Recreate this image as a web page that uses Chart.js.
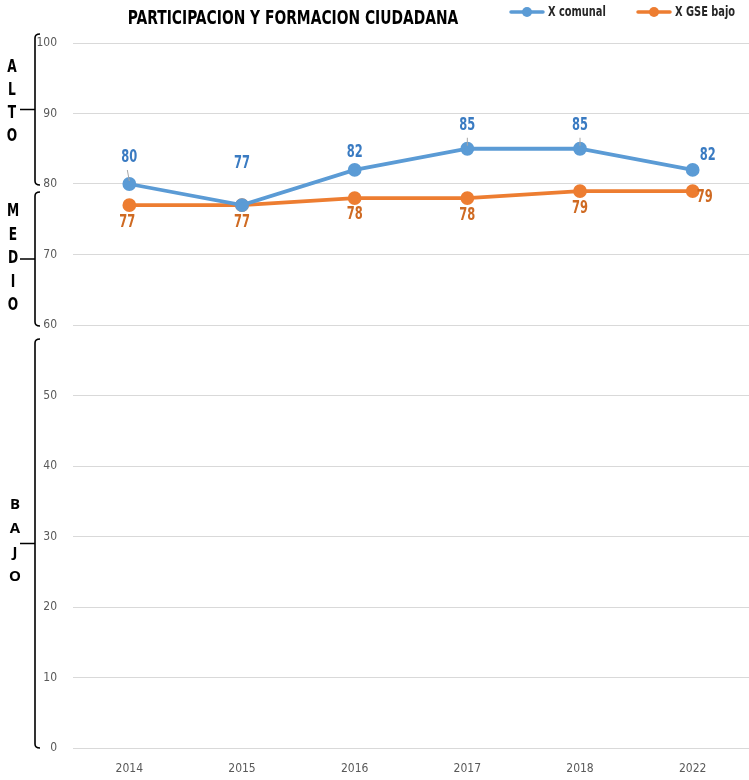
<!DOCTYPE html>
<html>
<head>
<meta charset="utf-8">
<script src="https://cdn.jsdelivr.net/npm/chart.js@4.4.1/dist/chart.umd.min.js"></script>
<style>
  html, body { margin: 0; padding: 0; background: #fff; overflow: hidden; }
  #wrap { width: 749px; height: 780px; position: relative; }
</style>
</head>
<body>
<div id="wrap"><canvas id="c"></canvas></div>
<script>
const years = ["2014", "2015", "2016", "2017", "2018", "2022"];
const comunal = [80, 77, 82, 85, 85, 82];
const gseBajo = [77, 77, 78, 78, 79, 79];
const yTicks = [0, 10, 20, 30, 40, 50, 60, 70, 80, 90, 100];

const NARROW = "'Liberation Sans Narrow', 'DejaVu Sans Condensed', sans-serif";
const BLUE = "#5B9BD5", BLUE_TXT = "#3A7BC2";
const ORANGE = "#ED7D31", ORANGE_TXT = "#CF6A22";

// squeeze text horizontally, the original uses a condensed face
function narrowText(ctx, txt, x, y, sx) {
  ctx.save();
  ctx.translate(x, y);
  ctx.scale(sx, 1);
  ctx.fillText(txt, 0, 0);
  ctx.restore();
}

// title, legend, bracket groups and value labels
const extras = {
  id: "extras",
  afterDatasetsDraw(chart) {
    const ctx = chart.ctx;
    const y = chart.scales.y;
    ctx.save();

    // title
    ctx.fillStyle = "#000";
    ctx.font = "bold 20px " + NARROW;
    ctx.textAlign = "center";
    ctx.textBaseline = "middle";
    narrowText(ctx, "PARTICIPACION Y FORMACION CIUDADANA", 293, 19, 0.77);

    // legend
    const legendX = [509, 636];
    chart.data.datasets.forEach((ds, i) => {
      const x0 = legendX[i];
      ctx.strokeStyle = ds.borderColor;
      ctx.fillStyle = ds.borderColor;
      ctx.lineWidth = 3.5;
      ctx.lineCap = "round";
      ctx.beginPath(); ctx.moveTo(x0 + 2, 12); ctx.lineTo(x0 + 34, 12); ctx.stroke();
      ctx.beginPath(); ctx.arc(x0 + 18, 12, 5, 0, Math.PI * 2); ctx.fill();
      ctx.fillStyle = "#262626";
      ctx.font = "bold 14px " + NARROW;
      ctx.textAlign = "left";
      narrowText(ctx, ds.label, x0 + 39, 12, 0.78);
    });
    ctx.textAlign = "center";

    // brackets
    const groups = [
      { top: y.getPixelForValue(100) - 9, bot: y.getPixelForValue(80) + 1, word: "ALTO", font: "bold 17px " + NARROW, sx: 0.8, x: 12, step: 23, shift: -7 },
      { top: y.getPixelForValue(80) + 8, bot: y.getPixelForValue(60) + 1, word: "MEDIO", font: "bold 17px " + NARROW, sx: 0.8, x: 13, step: 23.5, shift: 0 },
      { top: y.getPixelForValue(60) + 14, bot: y.getPixelForValue(0), word: "BAJO", font: "bold 15px 'Open Sans', 'DejaVu Sans', sans-serif", sx: 1, x: 15, step: 24, shift: -3 }
    ];
    ctx.strokeStyle = "#000";
    ctx.lineWidth = 1.6;
    ctx.lineCap = "butt";
    groups.forEach(gr => {
      const mid = (gr.top + gr.bot) / 2;
      ctx.beginPath();
      ctx.moveTo(40, gr.top);
      ctx.quadraticCurveTo(35, gr.top, 35, gr.top + 4);
      ctx.lineTo(35, gr.bot - 4);
      ctx.quadraticCurveTo(35, gr.bot, 40, gr.bot);
      ctx.moveTo(35, mid);
      ctx.lineTo(20, mid);
      ctx.stroke();
      ctx.font = gr.font;
      ctx.fillStyle = "#000";
      const n = gr.word.length;
      for (let i = 0; i < n; i++) {
        narrowText(ctx, gr.word[i], gr.x, mid + gr.shift + (i - (n - 1) / 2) * gr.step, gr.sx);
      }
    });

    // value labels
    const offs = [
      [[0, -26], [0, -42], [0, -17], [0, -23], [0, -23], [15, -14]],
      [[-2, 17], [0, 17], [0, 16], [0, 17], [0, 18], [12, 7]]
    ];
    const leaders = [0, 3, 4];
    ctx.font = "bold 17px " + NARROW;
    chart.data.datasets.forEach((ds, di) => {
      const pts = chart.getDatasetMeta(di).data;
      pts.forEach((p, i) => {
        const [dx, dy] = offs[di][i];
        if (di === 0 && leaders.includes(i)) {
          ctx.strokeStyle = "#A6A6A6";
          ctx.lineWidth = 1;
          ctx.beginPath();
          ctx.moveTo(p.x - (i === 0 ? 2 : 0), p.y + dy + 12);
          ctx.lineTo(p.x, p.y - 3);
          ctx.stroke();
        }
        ctx.fillStyle = di === 0 ? BLUE_TXT : ORANGE_TXT;
        narrowText(ctx, String(ds.data[i]), p.x + dx, p.y + dy, 0.75);
      });
    });
    ctx.restore();
  }
};

new Chart(document.getElementById("c"), {
  type: "line",
  data: {
    labels: years,
    datasets: [
      { label: "X comunal", data: comunal, borderColor: BLUE, backgroundColor: BLUE,
        borderWidth: 3.8, pointRadius: 5, pointHoverRadius: 5, pointStyle: "circle", fill: false },
      { label: "X GSE bajo", data: gseBajo, borderColor: ORANGE, backgroundColor: ORANGE,
        borderWidth: 3.8, pointRadius: 5, pointHoverRadius: 5, pointStyle: "circle", fill: false }
    ]
  },
  options: {
    responsive: true,
    maintainAspectRatio: false,
    animation: false,
    layout: { autoPadding: false, padding: { top: 43, right: -2, left: 0, bottom: 0 } },
    plugins: {
      title: { display: false },
      legend: { display: false },
      tooltip: { enabled: false }
    },
    scales: {
      x: {
        offset: true,
        grid: { display: false, drawTicks: false },
        border: { display: false },
        ticks: { color: "#595959", padding: 14, font: { family: NARROW, size: 12 } },
        afterFit(s) { s.height = 32; s.paddingLeft = 0; s.paddingRight = 0; }
      },
      y: {
        min: 0,
        max: 100,
        afterBuildTicks(s) { s.ticks = yTicks.map(v => ({ value: v })); },
        grid: { color: "#D9D9D9", lineWidth: 1, drawTicks: false },
        border: { display: false },
        ticks: { color: "#595959", padding: 16, font: { family: NARROW, size: 12 } },
        afterFit(s) { s.width = 73; }
      }
    }
  },
  plugins: [extras]
});
</script>
</body>
</html>
